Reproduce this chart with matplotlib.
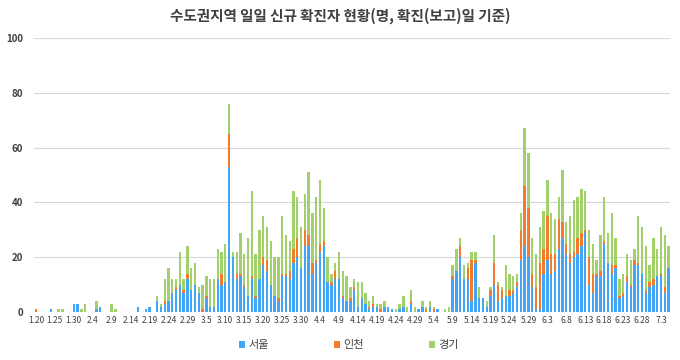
import matplotlib
matplotlib.use("Agg")
import matplotlib.pyplot as plt
import numpy as np
from datetime import date, timedelta

plt.rcParams['font.family'] = ['Noto Sans CJK KR', 'DejaVu Sans']

# 일자 (2020.1.20 ~ 7.5)
start_day = date(2020, 1, 20)
n_days = 168
dates = [start_day + timedelta(days=k) for k in range(n_days)]
date_labels = [f"{d.month}.{d.day}" for d in dates]

# 지역별 일일 신규 확진자
seoul = [0, 0, 0, 0, 1, 0, 0, 0, 0, 0,
         3, 3, 0, 0, 0, 0, 1, 2, 0, 0,
         0, 0, 0, 0, 0, 0, 0, 2, 0, 1,
         2, 0, 4, 2, 3, 4, 7, 8, 10, 7,
         12, 8, 10, 7, 0, 5, 2, 2, 12, 10,
         11, 53, 20, 12, 13, 9, 6, 12, 5, 12,
         17, 15, 10, 6, 4, 13, 13, 12, 18, 20,
         16, 24, 24, 14, 18, 22, 24, 11, 10, 12,
         12, 5, 4, 4, 8, 2, 5, 3, 1, 2,
         2, 0, 2, 2, 1, 0, 1, 2, 0, 3,
         0, 1, 2, 0, 2, 0, 1, 0, 0, 0,
         12, 15, 20, 12, 12, 4, 18, 5, 5, 2,
         6, 10, 4, 5, 6, 6, 7, 9, 19, 24,
         20, 9, 1, 1, 14, 19, 14, 15, 23, 27,
         21, 18, 20, 21, 24, 29, 10, 7, 13, 13,
         25, 18, 14, 16, 5, 6, 11, 9, 17, 17,
         14, 7, 9, 10, 13, 13, 7, 16]
incheon = [1, 0, 0, 0, 0, 0, 0, 0, 0, 0,
           0, 0, 0, 0, 0, 0, 0, 0, 0, 0,
           0, 0, 0, 0, 0, 0, 0, 0, 0, 0,
           0, 0, 0, 0, 1, 0, 0, 1, 0, 1,
           2, 0, 0, 0, 1, 1, 0, 0, 0, 4,
           0, 12, 0, 2, 1, 1, 0, 1, 1, 0,
           3, 4, 0, 0, 1, 1, 1, 3, 5, 7,
           0, 6, 4, 4, 1, 3, 2, 0, 1, 3,
           0, 1, 0, 1, 1, 0, 0, 0, 1, 1,
           0, 1, 0, 0, 0, 0, 0, 0, 0, 1,
           0, 0, 0, 1, 0, 1, 0, 0, 0, 0,
           1, 0, 4, 0, 4, 15, 1, 0, 0, 0,
           2, 8, 6, 3, 0, 2, 1, 2, 11, 22,
           18, 5, 8, 17, 9, 16, 7, 6, 11, 6,
           4, 3, 2, 6, 5, 1, 10, 7, 1, 2,
           1, 0, 3, 1, 1, 1, 2, 1, 2, 1,
           0, 1, 2, 2, 0, 1, 2, 0]
gyeonggi = [0, 0, 0, 0, 0, 0, 1, 1, 0, 0,
            0, 0, 1, 3, 0, 0, 3, 0, 0, 0,
            3, 1, 0, 0, 0, 0, 0, 0, 0, 0,
            0, 0, 2, 1, 8, 12, 5, 3, 12, 4,
            10, 8, 8, 2, 9, 7, 10, 10, 11, 8,
            14, 11, 2, 8, 15, 11, 21, 31, 15, 18,
            15, 12, 16, 14, 15, 21, 14, 11, 21, 15,
            15, 13, 23, 18, 23, 23, 12, 9, 3, 3,
            10, 9, 9, 4, 3, 9, 6, 4, 2, 3,
            1, 2, 2, 0, 0, 1, 2, 4, 2, 4,
            2, 0, 2, 1, 2, 1, 0, 0, 1, 2,
            4, 8, 3, 5, 2, 3, 3, 4, 0, 2,
            1, 10, 1, 1, 11, 6, 5, 3, 6, 21,
            20, 13, 12, 13, 14, 13, 15, 13, 8, 19,
            8, 14, 19, 15, 16, 14, 10, 11, 5, 13,
            16, 11, 19, 10, 6, 7, 8, 9, 4, 17,
            17, 16, 6, 15, 10, 17, 19, 8]

series = [("서울", seoul, "#42a5f5"),
          ("인천", incheon, "#f47b2a"),
          ("경기", gyeonggi, "#a2d06a")]

fig = plt.figure(figsize=(6.8, 3.6), dpi=100)
ax = fig.add_axes([0.050, 0.1333, 0.936, 0.7611])

x = np.arange(n_days)
bottom = np.zeros(n_days)
for name, vals, color in series:
    vals = np.array(vals, dtype=float)
    ax.bar(x, vals, width=0.62, bottom=bottom, color=color, label=name, zorder=3)
    bottom += vals

# 축 설정
ax.set_xlim(-0.5, n_days - 0.5)
ax.set_ylim(0, 100)
ax.set_yticks(range(0, 101, 20))
ax.set_yticklabels([str(v) for v in range(0, 101, 20)], fontsize=7, fontweight='bold', color='#404040')
tick_idx = list(range(0, n_days, 5))
ax.set_xticks(tick_idx)
ax.set_xticklabels([date_labels[k] for k in tick_idx], fontsize=6, color='#404040')
ax.tick_params(axis='both', length=0, pad=3)
ax.tick_params(axis='y', pad=8)
ax.grid(axis='y', color='#d9d9d9', linewidth=0.8, zorder=0)
for side in ['top', 'right', 'left', 'bottom']:
    ax.spines[side].set_visible(False)
ax.axhline(0, color='#d9d9d9', linewidth=0.8, zorder=1)

fig.suptitle("수도권지역 일일 신규 확진자 현황(명, 확진(보고)일 기준)",
             x=0.5, y=0.98, fontsize=10.5, fontweight='bold', color='#404040')

fig.legend(loc='lower center', bbox_to_anchor=(0.513, 0.0), ncol=3, frameon=False,
           fontsize=8, handlelength=0.6, handleheight=0.6, handletextpad=0.3,
           columnspacing=5.8, labelcolor='#404040')

fig.savefig("out.png", dpi=100)
